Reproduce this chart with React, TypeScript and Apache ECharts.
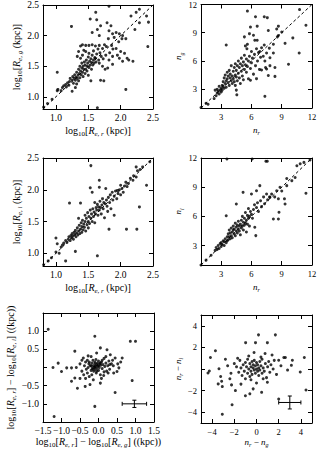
import React, { useEffect, useRef } from "react";
import * as echarts from "echarts";

const FONT = "'Liberation Serif', 'DejaVu Serif', serif";

// Panel 1: log10 Re,r vs log10 Re,g
const reRvsReG: number[][] = [[0.81,0.83],[0.87,0.89],[0.94,0.96],[1.02,1.1],[1.03,1.12],[1.02,1.4],[1.08,1.1],[1.1,1.15],[1.12,1.18],[1.15,1.2],[1.16,1.16],[1.18,1.23],[1.2,1.19],[1.21,1.25],[1.22,1.3],[1.24,2.15],[1.25,1.09],[1.25,1.27],[1.26,1.33],[1.27,1.22],[1.28,1.3],[1.29,1.36],[1.3,1.15],[1.3,1.27],[1.31,1.32],[1.32,1.21],[1.32,1.4],[1.33,1.3],[1.33,1.66],[1.34,1.35],[1.35,1.26],[1.35,1.45],[1.35,1.74],[1.36,1.38],[1.37,1.31],[1.37,1.5],[1.38,1.42],[1.38,1.63],[1.38,1.83],[1.39,1.36],[1.4,1.47],[1.4,1.55],[1.41,1.4],[1.41,1.68],[1.41,1.85],[1.42,1.33],[1.42,1.5],[1.43,1.45],[1.43,1.76],[1.44,1.57],[1.45,1.38],[1.45,1.52],[1.46,1.45],[1.46,1.74],[1.46,1.84],[1.47,1.6],[1.48,1.5],[1.48,1.42],[1.49,1.55],[1.5,1.65],[1.5,1.35],[1.51,1.48],[1.51,1.71],[1.51,1.84],[1.52,1.58],[1.53,1.52],[1.53,2.27],[1.54,1.26],[1.54,1.62],[1.55,1.45],[1.55,1.56],[1.56,1.68],[1.56,1.85],[1.56,2.05],[1.57,1.52],[1.58,1.6],[1.58,1.75],[1.59,1.55],[1.6,1.64],[1.61,1.83],[1.61,1.63],[1.615,2.38],[1.62,1.57],[1.63,2.26],[1.63,1.7],[1.64,0.82],[1.64,2.1],[1.65,1.78],[1.66,1.6],[1.67,1.55],[1.67,1.84],[1.67,2.0],[1.68,1.72],[1.69,2.16],[1.69,1.27],[1.7,1.66],[1.72,1.79],[1.72,1.5],[1.73,1.62],[1.74,1.26],[1.75,1.85],[1.76,1.45],[1.77,1.68],[1.78,1.82],[1.79,2.21],[1.8,1.47],[1.81,1.95],[1.82,2.08],[1.82,1.6],[1.83,1.72],[1.85,2.16],[1.86,1.84],[1.875,2.03],[1.875,1.53],[1.875,1.66],[1.88,1.78],[1.9,1.97],[1.93,2.05],[1.93,1.79],[1.95,1.68],[1.97,1.9],[1.98,2.03],[1.98,1.63],[2.0,1.74],[2.02,1.95],[2.03,2.0],[2.03,1.58],[2.06,1.71],[2.08,1.95],[2.08,1.12],[2.1,1.63],[2.125,1.6],[2.16,2.32],[2.19,1.58],[2.22,2.1],[2.24,2.38],[2.29,2.43],[2.29,2.21],[2.42,1.82],[2.4,2.32],[2.43,2.22],[1.82,2.48]];

// Panel 2: n_r vs n_g
const nRvsNG: number[][] = [[1.0,1.05],[1.5,1.5],[1.7,1.4],[2.3,2.0],[2.4,2.9],[2.5,2.3],[2.6,2.6],[2.6,3.0],[2.7,2.8],[2.8,3.3],[2.8,2.5],[2.9,2.9],[3.0,3.1],[3.0,2.7],[3.1,3.4],[3.1,2.9],[3.2,3.3],[3.2,3.8],[3.3,3.1],[3.3,4.2],[3.4,3.6],[3.4,4.5],[3.5,7.7],[3.5,3.9],[3.5,3.2],[3.6,4.1],[3.6,4.8],[3.7,3.7],[3.7,4.4],[3.8,3.4],[3.8,5.0],[3.9,4.2],[3.9,4.6],[4.0,3.9],[4.0,5.5],[4.1,4.4],[4.1,3.6],[4.2,4.9],[4.2,4.1],[4.3,5.3],[4.3,3.8],[4.4,4.5],[4.4,3.4],[4.4,5.7],[4.5,2.9],[4.5,4.3],[4.5,5.0],[4.55,2.4],[4.6,5.5],[4.6,3.9],[4.7,4.7],[4.7,6.0],[4.8,4.2],[4.8,5.3],[4.9,5.7],[4.9,3.6],[5.0,4.9],[5.0,6.3],[5.1,4.4],[5.1,5.5],[5.2,5.9],[5.2,4.0],[5.3,6.6],[5.3,5.1],[5.3,8.56],[5.4,5.6],[5.4,7.6],[5.5,4.8],[5.5,6.2],[5.55,7.3],[5.6,11.3],[5.6,5.4],[5.6,7.77],[5.7,6.0],[5.7,4.1],[5.8,8.9],[5.8,6.5],[5.9,5.2],[5.9,9.6],[5.9,3.95],[6.0,5.8],[6.0,7.0],[6.1,6.3],[6.2,8.73],[6.2,4.6],[6.3,6.7],[6.33,8.2],[6.4,10.7],[6.4,5.5],[6.5,7.3],[6.5,4.12],[6.57,9.7],[6.57,8.2],[6.6,6.0],[6.7,6.9],[6.8,5.1],[6.83,7.0],[6.9,6.4],[7.0,5.04],[7.0,7.4],[7.17,6.5],[7.27,10.7],[7.27,7.7],[7.33,6.0],[7.33,2.24],[7.4,5.3],[7.5,6.85],[7.5,5.14],[7.57,10.6],[7.67,9.24],[7.67,4.46],[7.77,7.36],[7.83,6.34],[7.83,5.5],[8.17,7.77],[8.17,6.85],[8.33,5.3],[8.33,4.36],[8.5,9.4],[8.57,8.56],[8.67,9.7],[8.67,8.7],[9.0,9.07],[9.33,7.87],[9.67,5.65],[10.1,8.45],[10.73,6.85],[10.77,11.46],[11.4,9.8]];

// Panel 3: log10 Re,r vs log10 Re,i
const reRvsReI: number[][] = [[0.81,0.82],[0.88,0.88],[0.93,0.93],[1.0,1.02],[1.0,1.24],[1.02,1.15],[1.05,1.0],[1.08,1.1],[1.1,1.13],[1.12,1.16],[1.15,0.88],[1.15,1.2],[1.17,1.17],[1.19,1.22],[1.2,1.26],[1.21,1.79],[1.22,1.2],[1.23,1.28],[1.24,1.24],[1.25,1.31],[1.26,1.27],[1.27,1.22],[1.28,1.33],[1.29,1.29],[1.3,1.03],[1.3,1.36],[1.31,1.26],[1.32,1.32],[1.33,1.4],[1.34,1.29],[1.35,1.35],[1.35,1.55],[1.36,1.44],[1.37,1.31],[1.38,1.79],[1.38,1.38],[1.39,1.48],[1.4,1.33],[1.4,1.42],[1.41,1.52],[1.42,1.37],[1.43,1.46],[1.44,1.41],[1.45,1.6],[1.45,1.5],[1.46,1.35],[1.47,1.55],[1.48,1.45],[1.49,1.64],[1.5,1.5],[1.5,1.4],[1.51,1.58],[1.52,1.47],[1.53,2.03],[1.53,1.68],[1.54,2.38],[1.54,1.55],[1.55,1.62],[1.56,1.96],[1.56,1.5],[1.57,1.7],[1.58,1.58],[1.59,1.65],[1.6,1.8],[1.6,1.48],[1.61,1.62],[1.62,1.72],[1.63,1.68],[1.64,0.96],[1.64,1.77],[1.65,1.6],[1.66,1.73],[1.67,2.15],[1.67,2.04],[1.67,1.68],[1.68,1.82],[1.69,1.72],[1.7,1.62],[1.71,1.76],[1.72,1.86],[1.73,1.7],[1.74,1.8],[1.75,1.56],[1.76,1.78],[1.77,2.02],[1.78,1.84],[1.79,1.74],[1.8,1.66],[1.81,1.88],[1.82,1.38],[1.83,1.8],[1.84,1.92],[1.85,1.7],[1.87,1.96],[1.88,1.84],[1.9,1.6],[1.9,1.9],[1.92,1.98],[1.94,1.86],[1.95,1.99],[1.96,1.94],[1.98,2.0],[2.0,2.07],[2.0,1.92],[2.02,2.02],[2.04,1.96],[2.06,2.06],[2.08,2.12],[2.1,2.05],[2.12,2.1],[2.15,2.18],[2.09,1.38],[2.19,2.15],[2.2,2.22],[2.24,2.2],[2.24,2.36],[2.25,1.38],[2.26,2.3],[2.29,1.73],[2.3,2.32],[2.34,2.36],[2.4,2.07],[2.45,2.44]];

// Panel 4: n_r vs n_i
const nRvsNI: number[][] = [[1.0,1.0],[1.5,1.5],[2.0,2.0],[2.4,2.5],[2.5,2.8],[2.6,2.6],[2.7,3.0],[2.8,2.7],[2.9,3.2],[3.0,2.9],[3.0,3.3],[3.1,3.1],[3.2,3.5],[3.3,3.0],[3.3,3.4],[3.4,3.7],[3.5,3.3],[3.5,6.07],[3.57,11.9],[3.6,3.9],[3.6,3.5],[3.7,4.2],[3.7,3.6],[3.8,3.9],[3.8,4.6],[3.9,3.7],[3.9,4.3],[4.0,4.0],[4.0,4.8],[4.1,4.4],[4.1,3.8],[4.2,4.6],[4.2,5.0],[4.3,4.2],[4.3,4.7],[4.4,5.3],[4.4,4.0],[4.5,7.27],[4.5,4.5],[4.5,4.9],[4.6,5.1],[4.6,4.3],[4.7,4.7],[4.7,5.5],[4.8,4.5],[4.8,5.0],[4.9,5.2],[4.9,4.1],[5.0,5.6],[5.0,4.8],[5.1,5.0],[5.1,6.0],[5.17,8.47],[5.2,5.4],[5.2,4.6],[5.3,5.8],[5.3,5.1],[5.4,6.4],[5.4,5.3],[5.5,5.6],[5.5,4.4],[5.6,6.1],[5.6,5.2],[5.7,5.8],[5.7,6.8],[5.8,6.0],[5.8,5.0],[5.9,6.5],[6.0,8.3],[6.0,6.2],[6.07,11.9],[6.1,5.8],[6.2,6.7],[6.3,7.2],[6.33,4.88],[6.43,4.02],[6.5,8.64],[6.5,6.9],[6.6,7.4],[6.7,6.5],[6.83,9.16],[6.9,7.6],[7.0,7.0],[7.2,8.0],[7.3,7.3],[7.43,11.66],[7.5,8.3],[7.57,11.66],[7.6,7.7],[7.8,8.0],[7.83,7.96],[8.0,8.3],[8.17,5.73],[8.3,8.0],[8.5,8.64],[8.67,7.8],[8.67,5.73],[8.73,6.42],[8.83,9.0],[9.0,8.6],[9.27,7.8],[9.33,7.27],[9.5,9.16],[9.5,9.9],[10.0,9.67],[10.33,10.0],[10.5,11.2],[10.83,11.4],[11.2,11.55],[11.4,8.37],[11.8,11.8]];

// Panel 5: (log Re,r - log Re,g) vs (log Re,r - log Re,i)
const dReGvsDReI: number[][] = [[-1.36,1.05],[-1.2,-1.35],[-1.23,0.0],[-1.09,0.12],[-1.0,-0.11],[-0.86,-0.01],[-0.73,-0.01],[-0.73,-0.38],[-0.64,-0.29],[-0.64,0.45],[-0.57,-0.57],[-0.5,0.1],[-0.45,-0.1],[-0.41,0.26],[-0.4,-0.2],[-0.38,0.05],[-0.36,-0.52],[-0.35,0.15],[-0.33,-0.05],[-0.3,0.2],[-0.3,-0.15],[-0.28,0.0],[-0.26,0.1],[-0.25,-0.25],[-0.23,-0.47],[-0.22,0.05],[-0.2,0.3],[-0.2,-0.08],[-0.18,0.12],[-0.17,-0.02],[-0.15,0.2],[-0.14,-0.34],[-0.14,0.05],[-0.13,-0.1],[-0.12,0.0],[-0.1,0.86],[-0.1,-1.07],[-0.1,0.1],[-0.1,0.15],[-0.09,-0.05],[-0.08,0.03],[-0.07,0.22],[-0.06,-0.15],[-0.05,0.4],[-0.05,0.08],[-0.04,-0.02],[-0.03,0.12],[-0.02,0.05],[0.0,-0.08],[0.0,0.18],[0.02,0.0],[0.03,0.1],[0.05,0.54],[0.05,-0.43],[0.05,-0.2],[0.06,0.06],[0.08,0.15],[0.1,-0.03],[0.12,0.08],[0.14,-0.22],[0.15,0.25],[0.17,0.03],[0.2,0.12],[0.22,-0.1],[0.23,0.49],[0.25,0.05],[0.28,0.18],[0.3,-0.05],[0.32,0.35],[0.35,0.1],[0.38,0.2],[0.41,-0.15],[0.45,0.26],[0.45,-0.69],[0.5,-0.11],[0.52,0.1],[0.55,-0.01],[0.6,0.15],[0.64,0.26],[0.86,0.72],[0.91,-0.36],[1.0,0.72],[-0.25,0.15],[-0.2,0.05],[-0.15,-0.05],[-0.1,0.02],[-0.05,-0.1],[0.0,0.05],[0.05,0.12],[0.1,0.2],[-0.35,-0.3],[-0.5,-0.3],[-0.45,0.2],[0.3,0.08],[0.15,-0.12],[-0.6,0.0],[0.2,0.3],[0.4,0.05],[-0.28,0.32],[0.08,-0.3],[-0.18,-0.2],[0.26,-0.15]];

// Panel 6: (n_r - n_g) vs (n_r - n_i)
const dNGvsDNI: number[][] = [[0.18,3.16],[1.7,3.16],[-0.98,2.44],[-0.09,2.44],[0.98,2.44],[-3.7,1.69],[-4.15,1.06],[-4.25,-0.19],[-4.37,-0.37],[-3.38,0.03],[-3.23,-0.69],[-3.45,-1.38],[-3.08,-1.63],[-3.14,-1.13],[-2.6,0.3],[-2.4,-0.9],[-2.25,-1.47],[-1.9,-2.0],[-2.2,-3.31],[-3.08,-4.19],[-1.0,-2.47],[-0.6,-2.3],[-0.3,-1.84],[0.46,-2.16],[0.98,-1.22],[2.0,-2.78],[4.46,-1.94],[3.94,-0.28],[4.31,1.06],[3.23,0.81],[3.14,0.34],[2.6,1.06],[2.46,1.06],[2.0,0.81],[0.77,1.44],[-0.22,1.53],[-2.0,0.5],[-1.8,0.2],[-1.6,-0.3],[-1.5,0.8],[-1.4,0.1],[-1.3,-0.6],[-1.2,0.4],[-1.1,-0.2],[-1.0,0.6],[-1.0,-0.9],[-0.9,0.2],[-0.8,-0.4],[-0.8,0.9],[-0.7,0.0],[-0.6,0.5],[-0.6,-0.7],[-0.5,0.2],[-0.5,-0.2],[-0.4,0.7],[-0.4,-0.5],[-0.3,0.1],[-0.3,0.4],[-0.2,-0.1],[-0.2,0.8],[-0.1,0.3],[-0.1,-0.4],[0.0,0.0],[0.0,0.6],[0.1,-0.2],[0.1,0.4],[0.2,0.1],[0.2,-0.6],[0.3,0.7],[0.3,-0.1],[0.4,0.3],[0.5,-0.4],[0.5,0.9],[0.6,0.1],[0.7,-0.2],[0.8,0.5],[0.9,-0.8],[1.0,0.2],[1.1,0.7],[1.2,-0.3],[1.3,0.4],[1.5,0.0],[1.6,0.8],[1.8,-0.5],[2.2,0.3],[-2.3,-0.4],[-1.7,1.0],[-0.7,1.2],[0.4,1.1],[1.4,1.3],[-1.4,-1.4],[0.0,-1.3],[-0.5,-1.0],[0.6,-0.9],[2.8,-0.1],[-2.8,0.9]];

// Typical error bars [x, y, xerr, yerr]
const errReDiff: number[][] = [[0.97, -1.0, 0.33, 0.1]];
const errNDiff: number[][] = [[3.0, -3.1, 1.0, 0.6]];

// Tick values
const logTicks = [1.0, 1.5, 2.0, 2.5];
const nTicks = [3, 6, 9, 12];
const reDiffTicks = [-1.5, -1.0, -0.5, 0.0, 0.5, 1.0, 1.5];
const reDiffYLabels = [-1.0, -0.5, 0.5, 1.0];
const nDiffTicks = [-4, -2, 0, 2, 4];
const nDiffYLabels = [-4, -2, 2, 4];

const minus = (s: string) => s.replace("-", "\u2212");

function rich(size: number) {
  const sub = Math.round(size * 0.7);
  return {
    n: { fontFamily: FONT, fontSize: size, color: "#000", lineHeight: size + 4 },
    i: { fontFamily: FONT, fontSize: size, fontStyle: "italic", color: "#000", lineHeight: size + 4 },
    s: { fontFamily: FONT, fontSize: sub, color: "#000", verticalAlign: "bottom", lineHeight: sub + 1 },
    si: { fontFamily: FONT, fontSize: sub, fontStyle: "italic", color: "#000", verticalAlign: "bottom", lineHeight: sub + 1 },
  };
}

type PanelCfg = {
  grid: { left: number; top: number; width: number; height: number };
  xMin: number; xMax: number; yMin: number; yMax: number;
  xTicks: number[]; yTicks: number[]; xLabels: number[]; yLabels: number[];
  fmt: (v: number) => string;
  fontSize: number;
  xName: string; yName: string; nameSize: number; xGap: number; yGap: number;
};

function axisPair(cfg: PanelCfg, gi: number, dim: "x" | "y") {
  const isX = dim === "x";
  const ticks = isX ? cfg.xTicks : cfg.yTicks;
  const labels = isX ? cfg.xLabels : cfg.yLabels;
  const base = {
    type: "value",
    gridIndex: gi,
    min: isX ? cfg.xMin : cfg.yMin,
    max: isX ? cfg.xMax : cfg.yMax,
    splitLine: { show: false },
    axisLine: { show: true, onZero: false, lineStyle: { color: "#000", width: 1 } },
    axisTick: { show: true, inside: true, length: 4, customValues: ticks, lineStyle: { color: "#000", width: 1 } },
  };
  const main = {
    ...base,
    position: isX ? "bottom" : "left",
    axisLabel: {
      show: true,
      customValues: labels,
      formatter: (v: number) => cfg.fmt(v),
      fontFamily: FONT,
      fontSize: cfg.fontSize,
      color: "#000",
      margin: 4,
    },
    name: isX ? cfg.xName : cfg.yName,
    nameLocation: "middle",
    nameGap: isX ? cfg.xGap : cfg.yGap,
    nameRotate: isX ? 0 : 90,
    nameTextStyle: { rich: rich(cfg.nameSize) },
  };
  const other = {
    ...base,
    position: isX ? "top" : "right",
    axisLabel: { show: false },
  };
  return [main, other];
}

const fmtLog = (v: number) => minus(v.toFixed(1));
const fmtInt = (v: number) => minus(String(Math.round(v)));

const reName = (b: string) => `{n|log}{s|10}{n|[}{i|R}{si|e, ${b}}{n| (kpc)]}`;

const panels: PanelCfg[] = [
  {
    grid: { left: 43, top: 1, width: 110, height: 108 },
    xMin: 0.8, xMax: 2.5, yMin: 0.8, yMax: 2.5,
    xTicks: logTicks, yTicks: logTicks, xLabels: logTicks, yLabels: logTicks,
    fmt: fmtLog, fontSize: 9.5,
    xName: reName("r"), yName: reName("g"), nameSize: 10, xGap: 14, yGap: 18,
  },
  {
    grid: { left: 201, top: 1, width: 111, height: 107 },
    xMin: 1, xMax: 12, yMin: 1, yMax: 12,
    xTicks: nTicks, yTicks: nTicks, xLabels: nTicks, yLabels: nTicks,
    fmt: fmtInt, fontSize: 8.5,
    xName: "{i|n}{si|r}", yName: "{i|n}{si|g}", nameSize: 9, xGap: 15, yGap: 16,
  },
  {
    grid: { left: 43, top: 158, width: 110, height: 108 },
    xMin: 0.8, xMax: 2.5, yMin: 0.8, yMax: 2.5,
    xTicks: logTicks, yTicks: logTicks, xLabels: logTicks, yLabels: logTicks,
    fmt: fmtLog, fontSize: 9.5,
    xName: reName("r"), yName: reName("i"), nameSize: 10, xGap: 14, yGap: 18,
  },
  {
    grid: { left: 201, top: 158, width: 111, height: 107 },
    xMin: 1, xMax: 12, yMin: 1, yMax: 12,
    xTicks: nTicks, yTicks: nTicks, xLabels: nTicks, yLabels: nTicks,
    fmt: fmtInt, fontSize: 8.5,
    xName: "{i|n}{si|r}", yName: "{i|n}{si|i}", nameSize: 9, xGap: 15, yGap: 16,
  },
  {
    grid: { left: 43, top: 313, width: 111, height: 109 },
    xMin: -1.5, xMax: 1.5, yMin: -1.5, yMax: 1.5,
    xTicks: reDiffTicks, yTicks: reDiffTicks, xLabels: reDiffTicks, yLabels: reDiffYLabels,
    fmt: fmtLog, fontSize: 9.5,
    xName: "{n|log}{s|10}{n|[}{i|R}{si|e, r}{n|] \u2212 log}{s|10}{n|[}{i|R}{si|e, g}{n|] ((kpc))}",
    yName: "{n|log}{s|10}{n|[}{i|R}{si|e, r}{n|] \u2212 log}{s|10}{n|[}{i|R}{si|e, i}{n|] ((kpc))}",
    nameSize: 10, xGap: 12, yGap: 18,
  },
  {
    grid: { left: 201, top: 315, width: 111, height: 108 },
    xMin: -5, xMax: 5, yMin: -5, yMax: 5,
    xTicks: nDiffTicks, yTicks: nDiffTicks, xLabels: nDiffTicks, yLabels: nDiffYLabels,
    fmt: fmtInt, fontSize: 8.5,
    xName: "{i|n}{si|r}{n| \u2212 }{i|n}{si|g}", yName: "{i|n}{si|r}{n| \u2212 }{i|n}{si|i}",
    nameSize: 9, xGap: 12, yGap: 14,
  },
];

const scatterData = [reRvsReG, nRvsNG, reRvsReI, nRvsNI, dReGvsDReI, dNGvsDNI];
const errData: (number[][] | null)[] = [null, null, null, null, errReDiff, errNDiff];

function renderErr(params: any, api: any) {
  const x = api.value(0), y = api.value(1), xe = api.value(2), ye = api.value(3);
  const l = api.coord([x - xe, y]);
  const r = api.coord([x + xe, y]);
  const t = api.coord([x, y + ye]);
  const b = api.coord([x, y - ye]);
  const st = { stroke: "#000", lineWidth: 1 };
  const c = 2;
  return {
    type: "group",
    children: [
      { type: "line", shape: { x1: l[0], y1: l[1], x2: r[0], y2: r[1] }, style: st },
      { type: "line", shape: { x1: t[0], y1: t[1], x2: b[0], y2: b[1] }, style: st },
      { type: "line", shape: { x1: l[0], y1: l[1] - c, x2: l[0], y2: l[1] + c }, style: st },
      { type: "line", shape: { x1: r[0], y1: r[1] - c, x2: r[0], y2: r[1] + c }, style: st },
      { type: "line", shape: { x1: t[0] - c, y1: t[1], x2: t[0] + c, y2: t[1] }, style: st },
      { type: "line", shape: { x1: b[0] - c, y1: b[1], x2: b[0] + c, y2: b[1] }, style: st },
    ],
  };
}

export default function App() {
  const ref = useRef<HTMLDivElement>(null);
  useEffect(() => {
    if (!ref.current) return;
    const chart = echarts.init(ref.current, undefined, { renderer: "svg" });
    const grid: any[] = [];
    const xAxis: any[] = [];
    const yAxis: any[] = [];
    const series: any[] = [];
    panels.forEach((p, gi) => {
      grid.push({ ...p.grid, containLabel: false });
      xAxis.push(...axisPair(p, gi, "x"));
      yAxis.push(...axisPair(p, gi, "y"));
      const ax = gi * 2;
      if (gi < 4) {
        series.push({
          type: "line",
          xAxisIndex: ax,
          yAxisIndex: ax,
          data: [[p.xMin, p.yMin], [p.xMax, p.yMax]],
          symbol: "none",
          silent: true,
          lineStyle: { color: "#000", width: 1, type: [3, 2.5] },
        });
      }
      series.push({
        type: "scatter",
        xAxisIndex: ax,
        yAxisIndex: ax,
        data: scatterData[gi],
        symbolSize: 3,
        silent: true,
        itemStyle: { color: "#000" },
      });
      const ed = errData[gi];
      if (ed) {
        series.push({
          type: "custom",
          xAxisIndex: ax,
          yAxisIndex: ax,
          data: ed,
          encode: { x: 0, y: 1 },
          renderItem: renderErr,
          silent: true,
        });
      }
    });
    chart.setOption({
      animation: false,
      backgroundColor: "#fff",
      grid,
      xAxis,
      yAxis,
      series,
    });
    return () => chart.dispose();
  }, []);
  return (
    <div
      ref={ref}
      style={{ position: "absolute", left: 0, top: 0, width: 327, height: 452 }}
    />
  );
}
